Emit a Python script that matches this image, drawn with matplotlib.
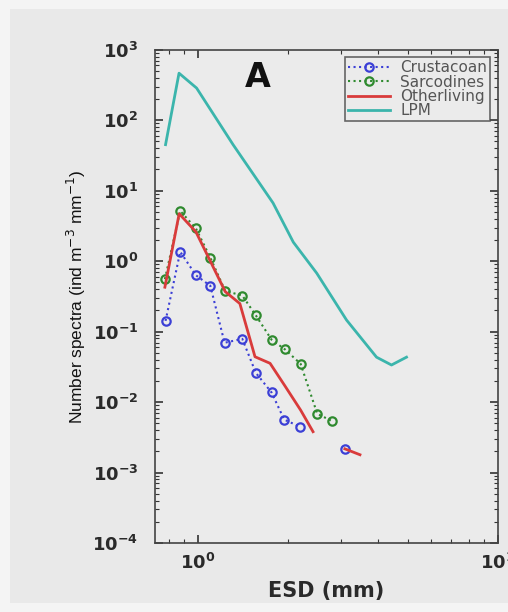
import numpy as np
import matplotlib
matplotlib.use("Agg")
import matplotlib.pyplot as plt
from matplotlib.patches import Rectangle
from matplotlib.ticker import LogLocator, NullFormatter

plt.rcParams['font.family'] = ['DejaVu Sans']

# ESD (mm) and number spectra; nan marks gaps in a line
esd_crus = [0.78, 0.873, 0.985, 1.10, 1.227, 1.406, 1.56, 1.76, 1.94, 2.19, np.nan, 3.09]
crustacean = [0.142, 1.36, 0.63, 0.447, 0.0695, 0.0789, 0.026, 0.0137, 0.00563, 0.00448, np.nan, 0.00217]

esd_sarc = [0.776, 0.873, 0.985, 1.10, 1.233, 1.406, 1.56, 1.76, 1.95, 2.2, 2.5, 2.79]
sarcodines = [0.555, 5.17, 2.91, 1.12, 0.378, 0.325, 0.17, 0.0769, 0.056, 0.0349, 0.00682, 0.00542]

esd_other = [0.776, 0.866, 0.985, 1.10, 1.233, 1.38, 1.55, 1.74, 1.95, 2.2, 2.42, np.nan, 3.09, 3.47]
otherliving = [0.427, 4.71, 2.6, 1.0, 0.37, 0.25, 0.044, 0.0355, 0.017, 0.0077, 0.0038, np.nan, 0.00217, 0.00179]

esd_lpm = [0.78, 0.865, 0.99, 1.31, 1.78, 2.08, 2.49, 3.13, 3.94, 4.42, 4.96]
lpm = [45, 465, 286, 45, 6.7, 1.86, 0.675, 0.146, 0.0434, 0.0336, 0.0434]

fig = plt.figure(figsize=(5.08, 6.12), dpi=100, facecolor='#f4f4f4')

# slightly darker inner panel, like the screenshot
bg = fig.add_axes([0, 0, 1, 1], zorder=-10)
bg.set_axis_off()
bg.add_patch(Rectangle((10 / 508, 9 / 612), 1, 594 / 612, transform=bg.transAxes,
                       facecolor='#e9e9e9', edgecolor='none'))

ax = fig.add_axes([0.305, 0.1127, 0.675, 0.806], facecolor='#ebebeb')

ax.plot(esd_crus, crustacean, ':', color='#3b3fd6', lw=1.5, marker='o', ms=6,
        mfc='none', mec='#3b3fd6', mew=1.6, label='Crustacoan')
ax.plot(esd_sarc, sarcodines, ':', color='#2f8a2f', lw=1.5, marker='o', ms=6,
        mfc='none', mec='#2f8a2f', mew=1.6, label='Sarcodines')
ax.plot(esd_other, otherliving, '-', color='#d93b3b', lw=2, label='Otherliving')
ax.plot(esd_lpm, lpm, '-', color='#3bb5ac', lw=2, label='LPM')

ax.set_xscale('log')
ax.set_yscale('log')
ax.set_xlim(0.719, 10)
ax.set_ylim(1e-4, 1e3)
ax.set_xticks([1, 10])
ax.yaxis.set_major_locator(LogLocator(base=10, numticks=12))
ax.yaxis.set_minor_locator(LogLocator(base=10, subs=np.arange(2, 10), numticks=12))
ax.yaxis.set_minor_formatter(NullFormatter())
ax.xaxis.set_minor_formatter(NullFormatter())
ax.tick_params(which='both', direction='in', top=True, right=True, colors='#333333',
               labelcolor='#2a2a2a', labelsize=13)
ax.tick_params(which='major', length=6, width=1.2)
ax.tick_params(which='minor', length=3, width=0.8)
ax.tick_params(axis='x', pad=7)
ax.tick_params(axis='y', pad=12)
for lab in ax.get_xticklabels() + ax.get_yticklabels():
    lab.set_fontweight('bold')
for s in ax.spines.values():
    s.set_color('#444444')
    s.set_linewidth(1.2)

ax.set_xlabel('ESD (mm)', fontsize=15, fontweight='bold', color='#2a2a2a', labelpad=6)
ax.set_ylabel('Number spectra (ind m$^{-3}$ mm$^{-1}$)', fontsize=12.5, color='#111111',
              family=['Liberation Sans', 'DejaVu Sans'], labelpad=3)
ax.text(0.30, 0.944, 'A', transform=ax.transAxes, fontsize=24, fontweight='bold',
        ha='center', va='center', color='#111111')

leg = ax.legend(loc='upper right', fontsize=11, frameon=True, fancybox=False,
                handlelength=2.7, borderpad=0.2, labelspacing=-0.05, handletextpad=0.7,
                borderaxespad=0.5, facecolor='#ebebeb', edgecolor='#444444')
leg.get_frame().set_linewidth(1.2)
for t in leg.get_texts():
    t.set_color('#555555')

fig.savefig('out.png', dpi=100, facecolor=fig.get_facecolor())
